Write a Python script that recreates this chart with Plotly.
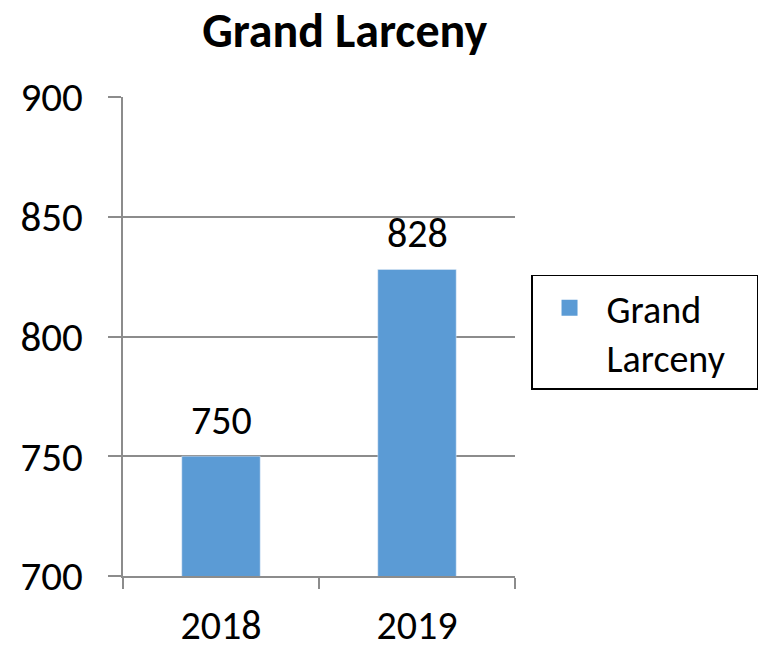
import plotly.graph_objects as go

categories = ["2018", "2019"]
values = [750, 828]
series_name = "Grand Larceny"
legend_label = "Grand<br>Larceny\u00a0\u00a0\u00a0"
y_ticks = [700, 750, 800, 850, 900]

font_family = "Carlito, Calibri, Lato, 'Open Sans', sans-serif"
bar_color = "#5b9bd5"

fig = go.Figure()
fig.add_trace(go.Bar(
    x=categories, y=values, name=series_name,
    marker=dict(color=bar_color),
    showlegend=False,
))
# legend entry (square swatch) for the series
fig.add_trace(go.Scatter(
    x=[categories[0]], y=[None], mode="markers", name=legend_label,
    marker=dict(symbol="square", size=16, color=bar_color),
    showlegend=True, hoverinfo="skip",
))
# data labels above the bars (x given as category index)
for i, v in enumerate(values):
    fig.add_annotation(x=i, y=v, xref="x", yref="y", text=str(v), showarrow=False,
                       yanchor="bottom", yshift=9,
                       font=dict(size=40, color="black", family=font_family))

fig.update_layout(
    width=761, height=650,
    margin=dict(l=123, r=246, t=97, b=74, autoexpand=False),
    paper_bgcolor="white", plot_bgcolor="white",
    title=dict(text="<b>Grand Larceny</b>", x=0.453, xanchor="center", y=0.953, yanchor="middle",
               font=dict(size=48, color="black", family=font_family)),
    bargap=0.6,
    showlegend=True,
    legend=dict(xref="container", yref="container", x=0.6978, xanchor="left", y=0.4885, yanchor="middle",
                bordercolor="black", borderwidth=1.5, bgcolor="white",
                font=dict(size=38, color="black", family=font_family),
                itemsizing="trace", valign="top", itemwidth=64),
    font=dict(family=font_family, color="black"),
)
fig.update_yaxes(range=[700, 900], tickvals=y_ticks, showgrid=True, gridcolor="#8c8c8c", gridwidth=1.5,
                 showline=True, linecolor="#8c8c8c", linewidth=2, ticks="outside", ticklen=13,
                 tickcolor="#8c8c8c", tickwidth=1.5, ticklabelstandoff=17, automargin=False,
                 tickfont=dict(size=41, color="black", family=font_family), zeroline=False)
fig.update_xaxes(type="category", range=[-0.5, 1.5], tickson="boundaries", showline=True,
                 linecolor="#8c8c8c", linewidth=2, ticks="outside", ticklen=11,
                 tickcolor="#8c8c8c", tickwidth=2, ticklabelstandoff=13, automargin=False,
                 tickfont=dict(size=40, color="black", family=font_family))

fig.write_html("out.html", config={"displayModeBar": False},
               post_script="document.body.style.margin='0';")
